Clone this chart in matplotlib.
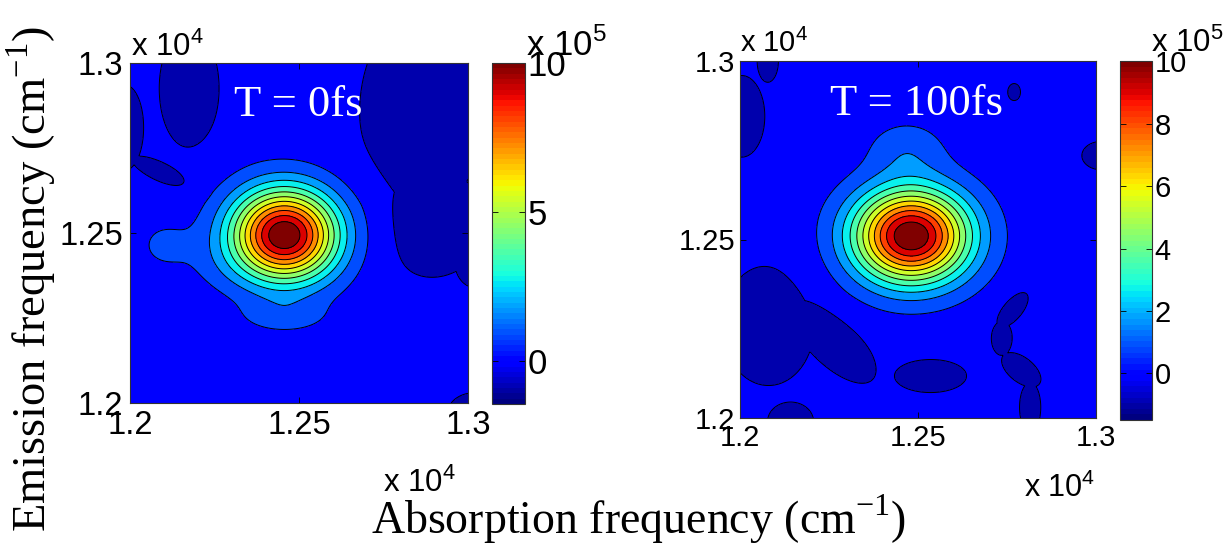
import numpy as np
import matplotlib.pyplot as plt
from matplotlib.colors import Normalize
from matplotlib.cm import ScalarMappable

plt.rcParams['font.family'] = 'Liberation Sans'
plt.rcParams['mathtext.fontset'] = 'custom'
plt.rcParams['mathtext.rm'] = 'Liberation Serif'
plt.rcParams['mathtext.sf'] = 'Liberation Sans'

# frequency axes, in units of 1e4 cm^-1
freq_min, freq_max = 1.2, 1.3
freq_ticks = [1.2, 1.25, 1.3]
freq_tick_labels = ['1.2', '1.25', '1.3']

panel_titles = ['T = 0fs', 'T = 100fs']

# colour range of each panel, in units of 1e5
zmin = [-1.45, -1.49]
zmax = [10.01, 10.01]
n_bands = 14
cbar_ticks = [[0, 5, 10], [0, 2, 4, 6, 8, 10]]

# main peak of each panel
peak_u = [1.2457, 1.2481]
peak_v = [1.2494, 1.2510]
peak_su = [0.0155, 0.0160]
peak_sv = [0.0133, 0.0130]
peak_amp = [9.55, 9.59]
baseline = [0.45, 0.42]

# weak shoulders on the peaks
shoulder_panel = [0, 0, 0, 1]
shoulder_u = [1.210, 1.2457, 1.2255, 1.2468]
shoulder_v = [1.2465, 1.2255, 1.2405, 1.2755]
shoulder_su = [0.006, 0.009, 0.008, 0.0075]
shoulder_sv = [0.0055, 0.0035, 0.006, 0.0055]
shoulder_amp = [0.70, 0.80, 0.25, 1.00]

# slightly negative background patches (centre, half widths, tilt in deg)
dip_panel = [0, 0, 0, 0, 0, 0, 0,
             1, 1, 1, 1, 1, 1, 1, 1, 1, 1, 1, 1]
dip_u = [1.286, 1.289, 1.302, 1.2175, 1.1985, 1.209, 1.302,
         1.2005, 1.2078, 1.208, 1.226, 1.2142, 1.2535, 1.2765, 1.2735, 1.279, 1.2815, 1.277, 1.3015]
dip_v = [1.285, 1.253, 1.242, 1.2925, 1.281, 1.268, 1.197,
         1.2845, 1.300, 1.226, 1.222, 1.199, 1.2118, 1.2305, 1.2225, 1.2135, 1.203, 1.2913, 1.2735]
dip_au = [0.018, 0.016, 0.006, 0.0088, 0.0055, 0.009, 0.008,
          0.0065, 0.003, 0.013, 0.016, 0.0065, 0.0102, 0.0065, 0.003, 0.0065, 0.003, 0.0018, 0.0055]
dip_av = [0.030, 0.016, 0.008, 0.0175, 0.0125, 0.0028, 0.006,
          0.0115, 0.006, 0.017, 0.007, 0.0055, 0.0047, 0.003, 0.005, 0.0035, 0.007, 0.0024, 0.004]
dip_angle = [0, 0, 0, 0, 0, -25, 0,
             0, 0, 0, -45, 0, 0, 50, 0, -38, 0, 0, 0]
dip_depth = [0.53, 0.53]

W, H = 1225, 544
axes_px = [(130, 63, 468, 403), (740, 61, 1096, 418)]
cbar_px = [(492, 63, 525, 404), (1120, 61, 1152, 420)]
tick_size = [23.5, 21]
cbar_size = [25, 21]


def rect(box):
    x0, y0, x1, y1 = box
    return [x0 / W, 1 - y1 / H, (x1 - x0) / W, (y1 - y0) / H]


def fpos(x, y):
    return x / W, 1 - y / H


grid = np.linspace(freq_min, freq_max, 401)
U, V = np.meshgrid(grid, grid)


def field(i):
    rho2 = ((U - peak_u[i]) / peak_su[i]) ** 2 + ((V - peak_v[i]) / peak_sv[i]) ** 2
    Z = baseline[i] + peak_amp[i] * np.exp(-rho2)
    for p, cu, cv, su, sv, a in zip(shoulder_panel, shoulder_u, shoulder_v,
                                    shoulder_su, shoulder_sv, shoulder_amp):
        if p == i:
            Z += a * np.exp(-0.5 * (((U - cu) / su) ** 2 + ((V - cv) / sv) ** 2))
    dip = np.zeros_like(U)
    for p, cu, cv, au, av, ang in zip(dip_panel, dip_u, dip_v, dip_au, dip_av, dip_angle):
        if p == i:
            t = np.deg2rad(ang)
            du, dv = U - cu, V - cv
            x = du * np.cos(t) + dv * np.sin(t)
            y = -du * np.sin(t) + dv * np.cos(t)
            dip = np.maximum(dip, np.exp(-np.log(2) * ((x / au) ** 2 + (y / av) ** 2)))
    return Z - dip_depth[i] * dip


jet64 = plt.get_cmap('jet', 64)
jet = plt.get_cmap('jet')

fig = plt.figure(figsize=(W / 100, H / 100), dpi=100)

for i in range(2):
    Z = field(i)
    edges = np.linspace(zmin[i], zmax[i], n_bands + 1)
    edges[0] = min(edges[0], Z.min() - 1e-6)
    edges[-1] = max(edges[-1], Z.max() + 1e-6)
    colors = [jet(c) for c in np.clip(np.linspace(-0.04, 1, n_bands), 0, 1)]

    ax = fig.add_axes(rect(axes_px[i]))
    ax.contourf(U, V, Z, levels=edges, colors=colors)
    ax.contour(U, V, Z, levels=edges[1:-1], colors='k', linewidths=0.7,
               negative_linestyles='solid')
    ax.set_xlim(freq_min, freq_max)
    ax.set_ylim(freq_min, freq_max)
    ax.set_xticks(freq_ticks)
    ax.set_xticklabels(freq_tick_labels)
    ax.set_yticks(freq_ticks)
    ax.set_yticklabels(freq_tick_labels)
    ax.tick_params(direction='in', top=True, right=True, length=4, width=0.6,
                   labelsize=tick_size[i])
    ax.tick_params(axis='y', pad=5.0 if i == 0 else 3.5)
    ax.tick_params(axis='x', pad=5.0 if i == 0 else 4.5)
    for s in ax.spines.values():
        s.set_linewidth(0.8)
        s.set_color('#333333')

    cax = fig.add_axes(rect(cbar_px[i]))
    cax.set_facecolor(jet64(0))
    sm = ScalarMappable(norm=Normalize(zmin[i], zmax[i]), cmap=jet64)
    cb = fig.colorbar(sm, cax=cax, ticks=cbar_ticks[i])
    cb.ax.set_yticklabels([str(t) for t in cbar_ticks[i]])
    cax.tick_params(axis='y', direction='in', left=True, right=True, length=4, width=0.6,
                    labelsize=cbar_size[i], pad=2)
    cb.outline.set_linewidth(0.8)
    cb.outline.set_edgecolor('#333333')

# panel titles
fig.text(*fpos(298, 116), panel_titles[0], color='white', family='Liberation Serif',
         fontsize=32, ha='center', va='baseline')
fig.text(*fpos(917, 115), panel_titles[1], color='white', family='Liberation Serif',
         fontsize=32, ha='center', va='baseline')

# MATLAB style exponent labels
mult = [(131, 55.5, '4', 22.5), (383, 492, '4', 22.5), (526, 55.5, '5', 25),
        (740.5, 52, '4', 21), (1023.5, 497, '4', 22), (1151, 52, '5', 22.5)]
for x, y, e, fs in mult:
    fig.text(*fpos(x, y), 'x 10$^{\\mathsf{%s}}$' % e, fontsize=fs, ha='left', va='baseline')

fig.text(*fpos(639, 534), 'Absorption frequency (cm$^{\\mathrm{-1}}$)',
         family='Liberation Serif', fontsize=33, ha='center', va='baseline')
fig.text(*fpos(45.5, 279), 'Emission frequency (cm$^{\\mathrm{-1}}$)',
         family='Liberation Serif', fontsize=33.5, ha='center', va='baseline',
         rotation=90, rotation_mode='anchor')

fig.savefig('out.png', dpi=100)
